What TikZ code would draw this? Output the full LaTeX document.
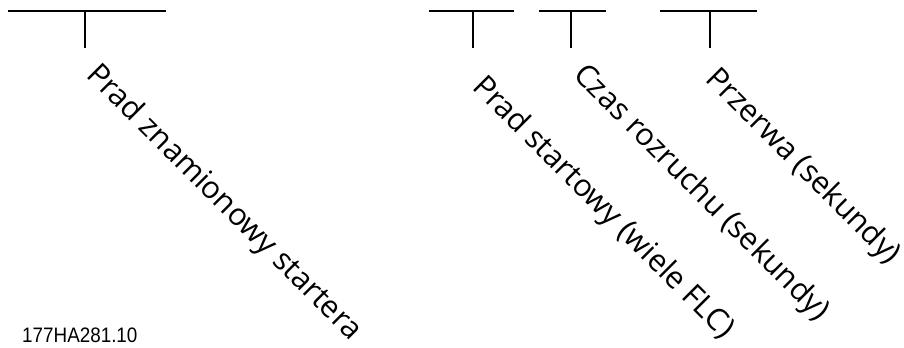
\documentclass[tikz,border=0pt]{standalone}
\usepackage{fontspec}
\setmainfont{Open Sans}
\newfontfamily\codefont{Liberation Sans}

\begin{document}
\begin{tikzpicture}[line cap=butt,x=0.75pt,y=-0.75pt,
  bar/.style={line width=2pt},
  lbl/.style={anchor=base west,rotate=-45,inner sep=0pt,font=\fontsize{23}{27}\selectfont}]
\useasboundingbox (0,0) rectangle (904,347);
\draw[bar] (8,11)-- (166,11);
\draw[bar] (85,11)-- (85,48);
\draw[bar] (429,11)-- (514,11);
\draw[bar] (473,11)-- (473,48);
\draw[bar] (539,11)-- (606,11);
\draw[bar] (571,11)-- (571,48);
\draw[bar] (660,11)-- (757,11);
\draw[bar] (710,11)-- (710,48);
\node[lbl] (nominal) at (85,76) {Prad znamionowy startera};
\node[lbl] (startcur) at (471,88) {Prad startowy (wiele FLC)};
\node[lbl] (ramptime) at (572,76) {Czas rozruchu (sekundy)};
\node[lbl] (pause) at (704,80) {Przerwa (sekundy)};
\node[anchor=base west,inner sep=0pt,xscale=0.9,font=\codefont\fontsize{15.7}{18}\selectfont] (code) at (22,342) {177HA281.10};
\end{tikzpicture}
\end{document}
